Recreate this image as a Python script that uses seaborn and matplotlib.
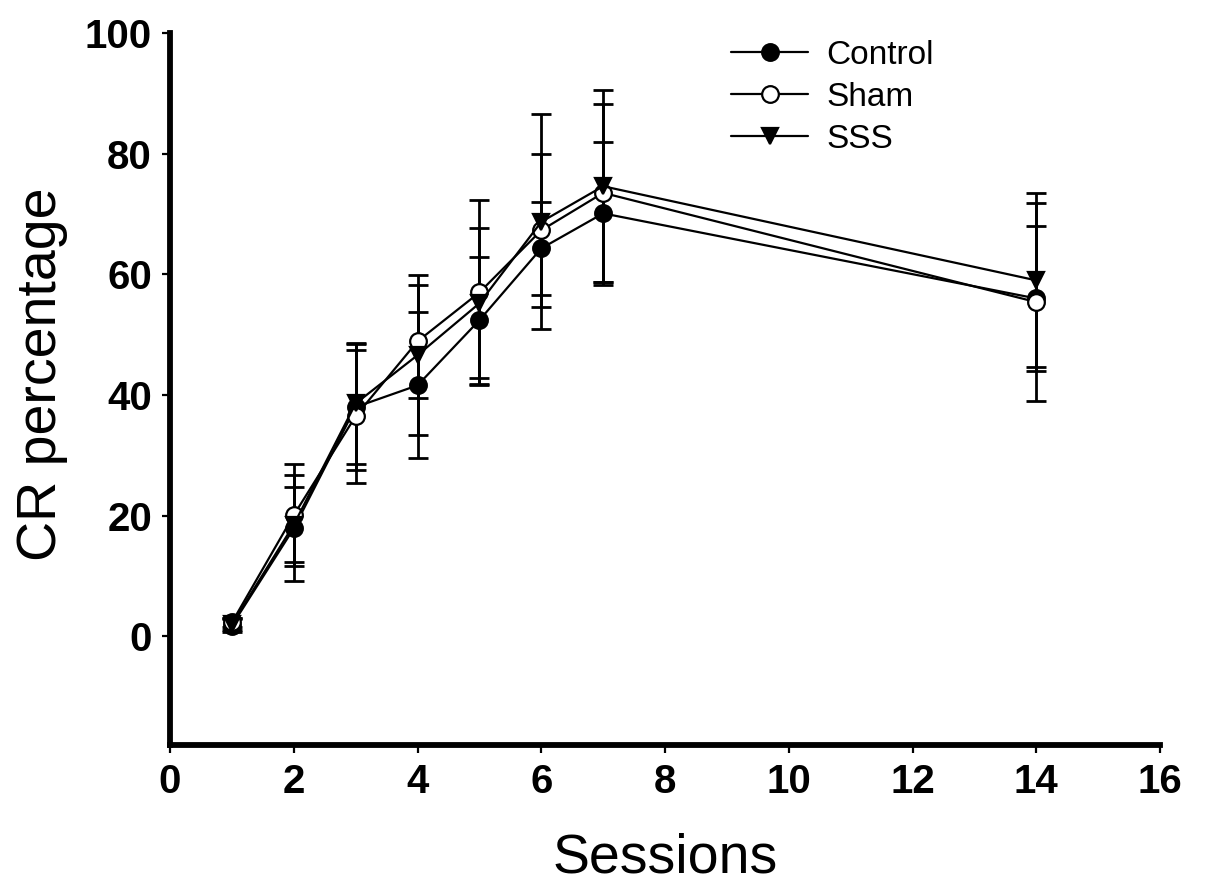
# plot.py

import pandas as pd
import matplotlib
matplotlib.use("Agg")
import matplotlib.pyplot as plt
import seaborn as sns

sessions = [1, 2, 3, 4, 5, 6, 7, 14]

control_mean = [1.8, 17.9, 38.0, 41.6, 52.4, 64.3, 70.1, 56.0]
control_err = [1.0, 8.8, 10.5, 12.1, 10.5, 7.7, 11.8, 12.0]

sham_mean = [2.3, 20.1, 36.5, 48.9, 57.0, 67.3, 73.5, 55.4]
sham_err = [0.8, 8.4, 11.0, 9.4, 15.3, 12.7, 14.8, 16.4]

sss_mean = [2.0, 18.5, 38.6, 46.6, 55.2, 68.7, 74.6, 59.0]
sss_err = [1.0, 6.2, 10.0, 13.3, 12.4, 17.8, 15.9, 14.4]

group_names = ["Control", "Sham", "SSS"]
x_ticks = [0, 2, 4, 6, 8, 10, 12, 14, 16]
y_ticks = [0, 20, 40, 60, 80, 100]

sns.set_style("ticks")
plt.rcParams["font.family"] = ["Liberation Sans", "DejaVu Sans"]
plt.rcParams["text.color"] = "black"
plt.rcParams["axes.labelcolor"] = "black"
plt.rcParams["xtick.color"] = "black"
plt.rcParams["ytick.color"] = "black"

groups = {
    "Control": (control_mean, control_err, dict(marker="o", markerfacecolor="black")),
    "Sham": (sham_mean, sham_err, dict(marker="o", markerfacecolor="white")),
    "SSS": (sss_mean, sss_err, dict(marker="v", markerfacecolor="black")),
}

fig = plt.figure(figsize=(12.05, 8.89), dpi=100)
ax = fig.add_axes([0.1411, 0.1620, 0.8216, 0.8009])

for name in group_names:
    mean, err, style = groups[name]
    df = pd.DataFrame({"session": sessions, "cr": mean, "err": err})
    ax.errorbar(df["session"], df["cr"], yerr=df["err"], fmt="none",
                ecolor="black", elinewidth=2, capsize=7.5, capthick=2, zorder=2)
    sns.lineplot(data=df, x="session", y="cr", ax=ax, color="black",
                 linewidth=1.6, markersize=12, markeredgecolor="black",
                 markeredgewidth=1.6, label=name, zorder=3, **style)

ax.set_xlim(0, 16)
ax.set_ylim(-18, 100)
ax.set_xticks(x_ticks)
ax.set_yticks(y_ticks)
ax.set_xticklabels([str(t) for t in x_ticks], fontsize=29, fontweight="bold")
ax.set_yticklabels([str(t) for t in y_ticks], fontsize=29, fontweight="bold")
ax.tick_params(axis="both", direction="out", length=6, width=1.6, pad=7, color="black")

ax.set_xlabel("Sessions", fontsize=40, labelpad=23)
ax.set_ylabel("CR percentage", fontsize=40)
ax.yaxis.set_label_coords(-0.103, 0.52)

sns.despine(ax=ax)
for side in ["left", "bottom"]:
    ax.spines[side].set_linewidth(4.2)
    ax.spines[side].set_color("black")
ax.spines["left"].set_bounds(-18, 100)

leg = ax.legend(loc="upper left", bbox_to_anchor=(0.567, 0.99), frameon=False,
                fontsize=24, handlelength=2.3, handletextpad=0.55,
                labelspacing=0.33, borderpad=0, borderaxespad=0)

fig.savefig("out.png", dpi=100)
